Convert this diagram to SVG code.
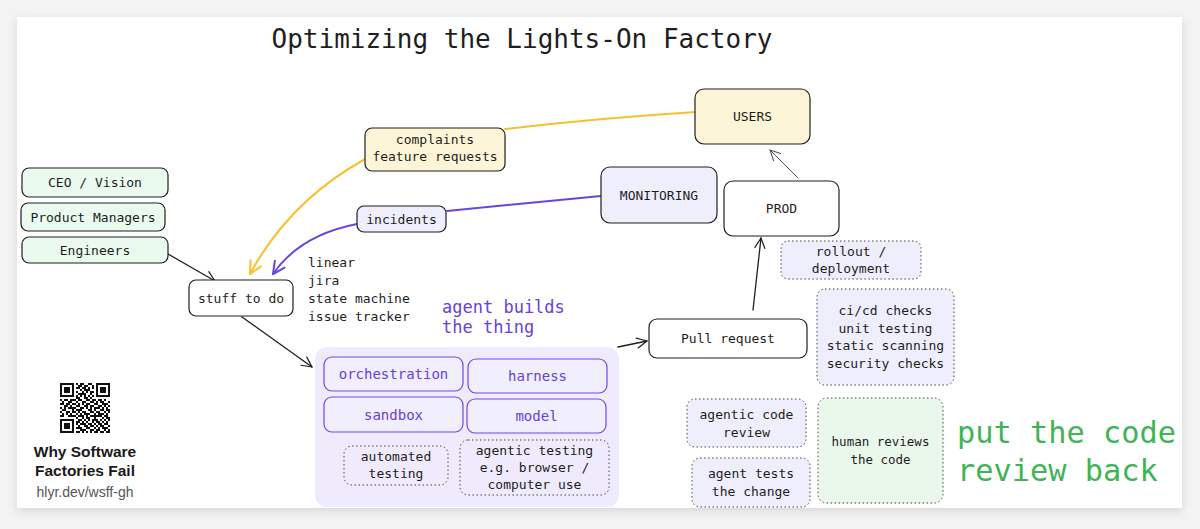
<svg xmlns="http://www.w3.org/2000/svg" width="1200" height="529" viewBox="0 0 1200 529">
<defs>
<filter id="sh" x="-5%" y="-5%" width="110%" height="115%">
<feDropShadow dx="0" dy="3" stdDeviation="5" flood-color="#000" flood-opacity="0.12"/>
</filter>
<marker id="ak" markerUnits="userSpaceOnUse" markerWidth="14" markerHeight="14" refX="11" refY="6" orient="auto">
<path d="M1,1 L11,6 L1,11" fill="none" stroke="#1e1e1e" stroke-width="1.2" stroke-linecap="round" stroke-linejoin="round"/>
</marker>
<marker id="ag" markerUnits="userSpaceOnUse" markerWidth="14" markerHeight="14" refX="11" refY="6" orient="auto">
<path d="M1,1 L11,6 L1,11" fill="none" stroke="#555" stroke-width="1.1" stroke-linecap="round" stroke-linejoin="round"/>
</marker>
<marker id="ay" markerUnits="userSpaceOnUse" markerWidth="16" markerHeight="16" refX="13" refY="7" orient="auto">
<path d="M1,1 L13,7 L1,13" fill="none" stroke="#f5c12e" stroke-width="2" stroke-linecap="round" stroke-linejoin="round"/>
</marker>
<marker id="ap" markerUnits="userSpaceOnUse" markerWidth="16" markerHeight="16" refX="13" refY="7" orient="auto">
<path d="M1,1 L13,7 L1,13" fill="none" stroke="#6a45d9" stroke-width="2" stroke-linecap="round" stroke-linejoin="round"/>
</marker>
</defs>
<style>
.t{font-family:"DejaVu Sans Mono","Liberation Mono",monospace;font-size:13px;fill:#1e1e1e;text-anchor:middle}
.l{text-anchor:start}
.box{stroke:#1e1e1e;stroke-width:1.2}
.dot{stroke:#444;stroke-width:1;stroke-dasharray:1.5 2.5}
.g{fill:#ebfaee}
.y{fill:#fdf5d7}
.v{fill:#efeefc}
.w{fill:#fff}
.pb{fill:#f1eefd;stroke:#7048e8;stroke-width:1.2}
.pt{fill:#6741d9;font-size:14px}
.c{fill:none;stroke-width:1.3;stroke-linecap:round}
</style>
<rect x="0" y="0" width="1200" height="529" fill="#f3f3f3"/>
<rect x="17" y="17" width="1165" height="491" fill="#fff" filter="url(#sh)"/>

<text class="t" x="522" y="48" style="font-size:26px">Optimizing the Lights-On Factory</text>

<g id="connectors">
<path class="c" d="M696,112 Q600,118 505,129" stroke="#f5c12e" style="stroke-width:2"/>
<path class="c" d="M367,158 Q290,200 250,274" stroke="#f5c12e" style="stroke-width:2" marker-end="url(#ay)"/>
<path class="c" d="M601,196 L447,211" stroke="#6a45d9" style="stroke-width:2"/>
<path class="c" d="M357,224 Q300,235 273,274" stroke="#6a45d9" style="stroke-width:2" marker-end="url(#ap)"/>
<path class="c" d="M168,254 L215,281" stroke="#1e1e1e" marker-end="url(#ak)"/>
<path class="c" d="M242,317 L312,367" stroke="#1e1e1e" marker-end="url(#ak)"/>
<path class="c" d="M618,347 L647,341" stroke="#1e1e1e" marker-end="url(#ak)"/>
<path class="c" d="M753,310 L761,238" stroke="#1e1e1e" marker-end="url(#ak)"/>
<path class="c" d="M798,178 L770,150" stroke="#555" style="stroke-width:1" marker-end="url(#ag)"/>
</g>

<g id="ceo"><rect class="box g" x="22" y="168" width="146" height="29" rx="7"/><text class="t" x="95" y="187">CEO / Vision</text></g>
<g id="pm"><rect class="box g" x="21" y="203" width="144" height="28" rx="7"/><text class="t" x="93" y="221.5">Product Managers</text></g>
<g id="eng"><rect class="box g" x="22" y="237" width="146" height="26" rx="7"/><text class="t" x="95" y="254.5">Engineers</text></g>
<g id="stuff"><rect class="box w" x="189" y="280" width="104" height="36" rx="7"/><text class="t" x="241" y="302.5">stuff to do</text></g>
<g id="trackers"><text class="t l" x="308" y="266.5">linear</text><text class="t l" x="308" y="285">jira</text><text class="t l" x="308" y="302.5">state machine</text><text class="t l" x="308" y="320.5">issue tracker</text></g>
<g id="complaints"><rect class="box y" x="365" y="128" width="140" height="43" rx="7"/><text class="t" x="435" y="143.5">complaints</text><text class="t" x="435" y="160.5">feature requests</text></g>
<g id="incidents"><rect class="box v" x="357" y="206" width="89" height="26" rx="7"/><text class="t" x="401.5" y="223.5">incidents</text></g>
<g id="users"><rect class="box y" x="695" y="89" width="115" height="55" rx="9"/><text class="t" x="752.5" y="120.5">USERS</text></g>
<g id="monitoring"><rect class="box v" x="601" y="167" width="116" height="56" rx="9"/><text class="t" x="659" y="199.5">MONITORING</text></g>
<g id="prod"><rect class="box w" x="724" y="181" width="115" height="55" rx="9"/><text class="t" x="781.5" y="213">PROD</text></g>
<g id="rollout"><rect class="dot v" x="781" y="241" width="140" height="38" rx="7"/><text class="t" x="851" y="255.5">rollout /</text><text class="t" x="851" y="272.5">deployment</text></g>
<g id="pr"><rect class="box w" x="649" y="319" width="158" height="39" rx="8"/><text class="t" x="728" y="343">Pull request</text></g>
<g id="cicd"><rect class="dot v" x="817" y="289" width="137" height="96" rx="8"/><text class="t" x="885.5" y="314.5">ci/cd checks</text><text class="t" x="885.5" y="332.5">unit testing</text><text class="t" x="885.5" y="349.5">static scanning</text><text class="t" x="885.5" y="367.5">security checks</text></g>

<g id="agent-group">
<rect x="315" y="347" width="304" height="160" rx="12" fill="#efebfd"/>
<text class="t l" x="442" y="313" style="font-size:17px;fill:#6741d9">agent builds</text>
<text class="t l" x="442" y="333" style="font-size:17px;fill:#6741d9">the thing</text>
</g>
<g id="orchestration"><rect class="pb" x="324" y="357" width="139" height="34" rx="8"/><text class="t pt" x="393.5" y="379">orchestration</text></g>
<g id="harness"><rect class="pb" x="468" y="359" width="139" height="34" rx="8"/><text class="t pt" x="537.5" y="381">harness</text></g>
<g id="sandbox"><rect class="pb" x="324" y="397" width="139" height="35" rx="8"/><text class="t pt" x="393.5" y="419.5">sandbox</text></g>
<g id="model"><rect class="pb" x="467" y="399" width="139" height="34" rx="8"/><text class="t pt" x="536.5" y="421">model</text></g>
<g id="automated"><rect class="dot" fill="#efebfd" x="344" y="446" width="104" height="39" rx="8"/><text class="t" x="396" y="460.5">automated</text><text class="t" x="396" y="477.5">testing</text></g>
<g id="agentic-testing"><rect class="dot" fill="#efebfd" x="460" y="440" width="149" height="55" rx="8"/><text class="t" x="534.5" y="454.5">agentic testing</text><text class="t" x="534.5" y="471.5">e.g. browser /</text><text class="t" x="534.5" y="488.5">computer use</text></g>

<g id="agentic-review"><rect class="dot v" x="687" y="399" width="119" height="48" rx="8"/><text class="t" x="746.5" y="418.5">agentic code</text><text class="t" x="746.5" y="436.5">review</text></g>
<g id="agent-tests"><rect class="dot v" x="692" y="458" width="118" height="49" rx="8"/><text class="t" x="751" y="477.5">agent tests</text><text class="t" x="751" y="495.5">the change</text></g>
<g id="human"><rect class="dot" fill="#eaf8ec" x="818" y="398" width="125" height="105" rx="9"/><text class="t" x="880.5" y="445.5" style="font-size:12.5px">human reviews</text><text class="t" x="880.5" y="463.5" style="font-size:12.5px">the code</text></g>
<g id="put-back"><text class="t l" x="957" y="443" style="font-size:30.3px;fill:#40b454">put the code</text><text class="t l" x="957" y="481" style="font-size:30.3px;fill:#40b454">review back</text></g>

<g id="qr">
<g transform="translate(60,383) scale(2)" fill="#111" shape-rendering="crispEdges">
<path d="M0,0h7v1h-7z M8,0h1v1h-1z M10,0h2v1h-2z M14,0h2v1h-2z M18,0h7v1h-7z
M0,1h1v1h-1z M6,1h1v1h-1z M9,1h2v1h-2z M12,1h2v1h-2z M16,1h1v1h-1z M18,1h1v1h-1z M24,1h1v1h-1z
M0,2h1v1h-1z M2,2h3v1h-3z M6,2h1v1h-1z M8,2h2v1h-2z M11,2h2v1h-2z M14,2h1v1h-1z M16,2h1v1h-1z M18,2h1v1h-1z M20,2h3v1h-3z M24,2h1v1h-1z
M0,3h1v1h-1z M2,3h3v1h-3z M6,3h1v1h-1z M10,3h1v1h-1z M12,3h3v1h-3z M18,3h1v1h-1z M20,3h3v1h-3z M24,3h1v1h-1z
M0,4h1v1h-1z M2,4h3v1h-3z M6,4h1v1h-1z M8,4h1v1h-1z M11,4h1v1h-1z M13,4h1v1h-1z M15,4h2v1h-2z M18,4h1v1h-1z M20,4h3v1h-3z M24,4h1v1h-1z
M0,5h1v1h-1z M6,5h1v1h-1z M9,5h4v1h-4z M15,5h1v1h-1z M18,5h1v1h-1z M24,5h1v1h-1z
M0,6h7v1h-7z M8,6h1v1h-1z M10,6h1v1h-1z M12,6h1v1h-1z M14,6h1v1h-1z M16,6h1v1h-1z M18,6h7v1h-7z
M8,7h2v1h-2z M12,7h2v1h-2z M15,7h1v1h-1z
M0,8h1v1h-1z M2,8h2v1h-2z M5,8h3v1h-3z M9,8h2v1h-2z M13,8h2v1h-2z M16,8h2v1h-2z M19,8h2v1h-2z M22,8h1v1h-1z
M1,9h1v1h-1z M4,9h2v1h-2z M8,9h1v1h-1z M11,9h2v1h-2z M15,9h2v1h-2z M18,9h1v1h-1z M20,9h2v1h-2z M24,9h1v1h-1z
M0,10h2v1h-2z M3,10h2v1h-2z M6,10h2v1h-2z M9,10h1v1h-1z M11,10h1v1h-1z M13,10h2v1h-2z M17,10h2v1h-2z M21,10h3v1h-3z
M2,11h2v1h-2z M5,11h1v1h-1z M8,11h2v1h-2z M12,11h2v1h-2z M15,11h2v1h-2z M19,11h2v1h-2z M22,11h1v1h-1z M24,11h1v1h-1z
M0,12h1v1h-1z M2,12h1v1h-1z M4,12h4v1h-4z M10,12h2v1h-2z M13,12h1v1h-1z M15,12h1v1h-1z M17,12h3v1h-3z M21,12h1v1h-1z M23,12h1v1h-1z
M1,13h2v1h-2z M6,13h1v1h-1z M8,13h3v1h-3z M14,13h2v1h-2z M17,13h1v1h-1z M20,13h2v1h-2z M23,13h2v1h-2z
M0,14h1v1h-1z M3,14h2v1h-2z M6,14h2v1h-2z M9,14h1v1h-1z M11,14h2v1h-2z M15,14h2v1h-2z M18,14h2v1h-2z M22,14h1v1h-1z M24,14h1v1h-1z
M1,15h1v1h-1z M3,15h1v1h-1z M5,15h1v1h-1z M8,15h1v1h-1z M10,15h1v1h-1z M12,15h3v1h-3z M17,15h1v1h-1z M19,15h3v1h-3z M23,15h1v1h-1z
M0,16h2v1h-2z M4,16h4v1h-4z M9,16h3v1h-3z M13,16h1v1h-1z M15,16h6v1h-6z M22,16h2v1h-2z
M8,17h1v1h-1z M11,17h1v1h-1z M13,17h2v1h-2z M17,17h1v1h-1z M21,17h1v1h-1z M23,17h2v1h-2z
M0,18h7v1h-7z M9,18h2v1h-2z M12,18h1v1h-1z M14,18h1v1h-1z M16,18h3v1h-3z M20,18h1v1h-1z M22,18h1v1h-1z M24,18h1v1h-1z
M0,19h1v1h-1z M6,19h1v1h-1z M8,19h2v1h-2z M11,19h1v1h-1z M13,19h1v1h-1z M16,19h1v1h-1z M18,19h2v1h-2z M21,19h1v1h-1z M23,19h1v1h-1z
M0,20h1v1h-1z M2,20h3v1h-3z M6,20h1v1h-1z M8,20h1v1h-1z M10,20h3v1h-3z M14,20h2v1h-2z M17,20h1v1h-1z M19,20h2v1h-2z M22,20h2v1h-2z
M0,21h1v1h-1z M2,21h3v1h-3z M6,21h1v1h-1z M9,21h1v1h-1z M12,21h2v1h-2z M15,21h2v1h-2z M18,21h1v1h-1z M20,21h2v1h-2z M24,21h1v1h-1z
M0,22h1v1h-1z M2,22h3v1h-3z M6,22h1v1h-1z M8,22h3v1h-3z M13,22h2v1h-2z M17,22h1v1h-1z M19,22h1v1h-1z M21,22h3v1h-3z
M0,23h1v1h-1z M6,23h1v1h-1z M10,23h3v1h-3z M15,23h2v1h-2z M18,23h2v1h-2z M22,23h1v1h-1z M24,23h1v1h-1z
M0,24h7v1h-7z M8,24h2v1h-2z M11,24h1v1h-1z M13,24h1v1h-1z M15,24h1v1h-1z M17,24h2v1h-2z M20,24h2v1h-2z M23,24h2v1h-2z"/>
</g>
<text x="85" y="457" text-anchor="middle" style="font-family:'Liberation Sans',Arial,sans-serif;font-weight:bold;font-size:15.5px;fill:#1a1a1a">Why Software</text>
<text x="85" y="475.5" text-anchor="middle" style="font-family:'Liberation Sans',Arial,sans-serif;font-weight:bold;font-size:15.5px;fill:#1a1a1a">Factories Fail</text>
<text x="85" y="497" text-anchor="middle" style="font-family:'Liberation Sans',Arial,sans-serif;font-size:14px;fill:#555">hlyr.dev/wsff-gh</text>
</g>
</svg>
